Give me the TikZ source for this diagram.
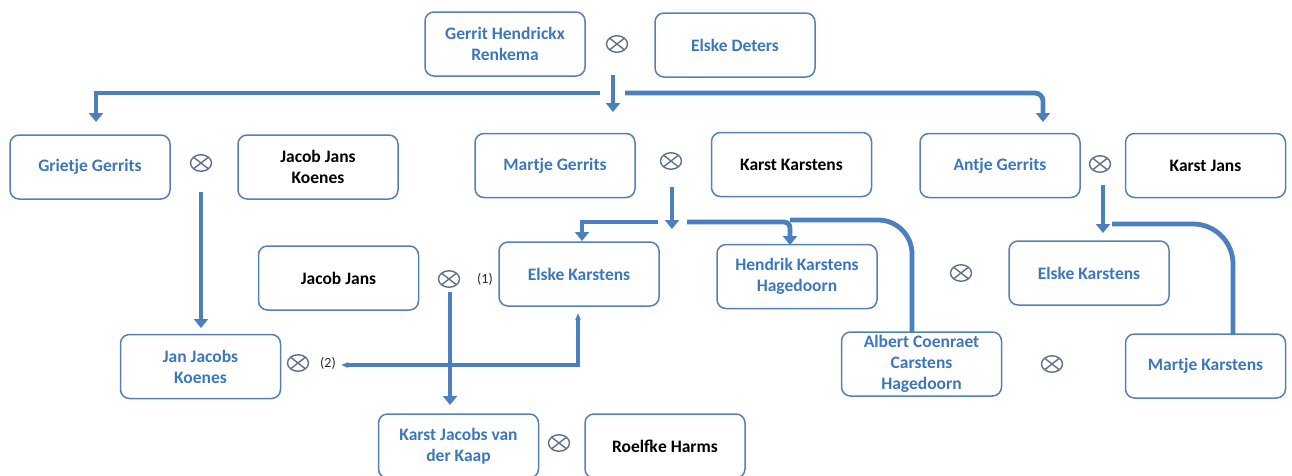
\documentclass[tikz,border=0pt]{standalone}
\usepackage{fontspec}
\setmainfont{Carlito}
\usetikzlibrary{arrows.meta,shapes.geometric}
\definecolor{bord}{RGB}{84,128,184}
\definecolor{tblue}{RGB}{60,118,188}
\definecolor{lcol}{RGB}{76,127,189}
\definecolor{xcol}{RGB}{95,112,140}
\tikzset{
 box/.style={draw=bord, line width=1.5pt, rounded corners=9pt, minimum width=160pt, minimum height=64pt, align=center, font=\fontsize{17.5}{21}\selectfont\bfseries, inner sep=0pt},
 bluebox/.style={box, text=tblue},
 blackbox/.style={box, text=black},
 conn/.style={draw=lcol, line width=4.8pt},
 arr/.style={conn, -{Triangle[width=14pt,length=9pt]}},
 marr/.style={ellipse, draw=xcol, line width=1.4pt, minimum width=21pt, minimum height=16.5pt, inner sep=0pt,
   path picture={\draw[xcol, line width=1.4pt] (path picture bounding box.north west) -- (path picture bounding box.south east)
     (path picture bounding box.south west) -- (path picture bounding box.north east);}},
 numlabel/.style={font=\fontsize{14}{16}\selectfont, text=black!85, inner sep=0pt}
}
\begin{document}
\begin{tikzpicture}[x=1pt,y=-1pt]
\useasboundingbox (0,0) rectangle (1292,475);
% persons
\node[bluebox] (A) at (505,44) {Gerrit Hendrickx\\Renkema};
\node[bluebox] (B) at (735,45) {Elske Deters};
\node[bluebox] (C) at (90,167) {Grietje Gerrits};
\node[blackbox] (D) at (318,167) {Jacob Jans\\Koenes};
\node[bluebox] (E) at (555,165.5) {Martje Gerrits};
\node[blackbox] (F) at (791.5,164.5) {Karst Karstens};
\node[bluebox] (G) at (1000,165.5) {Antje Gerrits};
\node[blackbox] (H) at (1205.5,165.5) {Karst Jans};
\node[blackbox] (I) at (338.5,278) {Jacob Jans};
\node[bluebox] (J) at (579,274) {Elske Karstens};
\node[bluebox] (K) at (797,276.5) {Hendrik Karstens\\Hagedoorn};
\node[bluebox] (L) at (1089,273) {Elske Karstens};
\node[bluebox] (M) at (200.5,366.5) {Jan Jacobs\\Koenes};
\node[bluebox] (N) at (921.5,364) {Albert Coenraet\\Carstens\\Hagedoorn};
\node[bluebox] (O) at (1205.5,366) {Martje Karstens};
\node[bluebox] (P) at (458.5,446) {Karst Jacobs van\\der Kaap};
\node[blackbox] (Q) at (665,446) {Roelfke Harms};
% marriage symbols
\node[marr] (x1) at (617,44) {};
\node[marr] (x2) at (201,163) {};
\node[marr] (x3) at (671,161) {};
\node[marr] (x4) at (1100,164) {};
\node[marr] (x5) at (449,279) {};
\node[marr] (x6) at (961,273) {};
\node[marr] (x7) at (298,363) {};
\node[marr] (x8) at (1052,364) {};
\node[marr] (x9) at (559,443) {};
% labels
\node[numlabel] (l1) at (485,279) {(1)};
\node[numlabel] (l2) at (328,363) {(2)};
% coordinates
\coordinate (a0) at (613,75);  \coordinate (a1) at (613,112);
\coordinate (al) at (600,93);  \coordinate (alc) at (96,93);  \coordinate (ale) at (96,122);
\coordinate (ar) at (625,93);  \coordinate (arc) at (1043,93); \coordinate (are) at (1043,122);
\coordinate (b0) at (672,187); \coordinate (b1) at (672,229);
\coordinate (bl) at (658,222); \coordinate (blc) at (582,222); \coordinate (ble) at (582,241);
\coordinate (br) at (687,222); \coordinate (brc) at (790,222); \coordinate (bre) at (790,245);
\coordinate (bn) at (790,220); \coordinate (bnc) at (912,220); \coordinate (bne) at (912,332);
\coordinate (c0) at (1103,185); \coordinate (c1) at (1103,233);
\coordinate (cr) at (1112,224); \coordinate (crc) at (1233,224); \coordinate (cre) at (1233,335);
\coordinate (g0) at (201,192); \coordinate (g1) at (201,328);
\coordinate (j0) at (450,292); \coordinate (j1) at (450,405);
\coordinate (e0) at (578,313); \coordinate (ec) at (578,365); \coordinate (e1) at (341,365);
% connectors
\draw[arr] (a0) -- (a1);
\draw[arr] (al) -- (alc) -- (ale);
\draw[arr, rounded corners=8pt] (ar) -- (arc) -- (are);
\draw[arr] (b0) -- (b1);
\draw[arr] (bl) -- (blc) -- (ble);
\draw[arr, rounded corners=6pt] (br) -- (brc) -- (bre);
\draw[conn, rounded corners=34pt] (bn) -- (bnc) -- (bne);
\draw[arr] (c0) -- (c1);
\draw[conn, rounded corners=40pt] (cr) -- (crc) -- (cre);
\draw[arr] (g0) -- (g1);
\draw[arr] (j0) -- (j1);
\draw[conn, {Triangle[width=5pt,length=7pt]}-{Triangle[width=5pt,length=7pt]}] (e0) -- (ec) -- (e1);
\end{tikzpicture}
\end{document}
